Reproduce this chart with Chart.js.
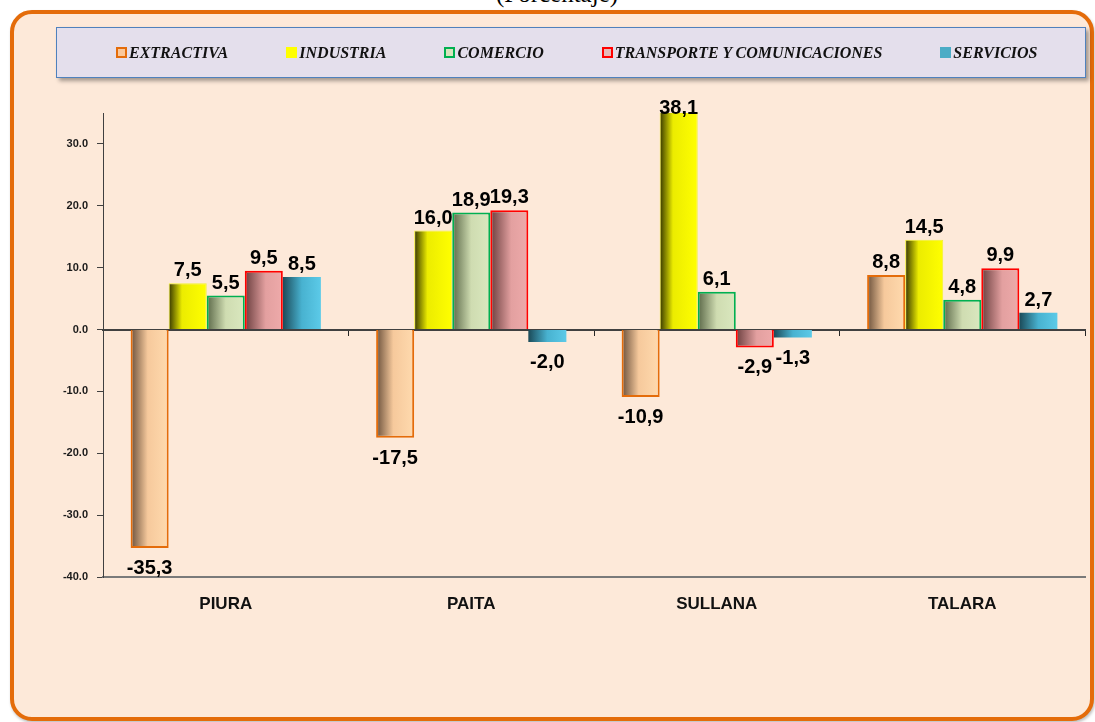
<!DOCTYPE html>
<html>
<head>
<meta charset="utf-8">
<title>Variación por sector</title>
<script src="https://cdn.jsdelivr.net/npm/chart.js@4/dist/chart.umd.min.js"></script>
<style>
    html, body { margin: 0; padding: 0; background: #ffffff; }
    body { position: relative; width: 1095px; height: 722px; overflow: hidden; }
    #title {
        position: absolute; left: 557px; top: -19px; transform: translateX(-50%);
        font: 25px "Liberation Serif", "Times New Roman", serif; line-height: 25px;
        color: #000; white-space: nowrap;
    }
    #frame {
        position: absolute; left: 10px; top: 10px; width: 1084px; height: 711px;
        box-sizing: border-box; border: 4px solid #e46c0a; border-radius: 22px;
        background: #fde9d9; box-shadow: 1px 2px 3px rgba(0,0,0,0.25);
    }
    #chart { position: absolute; left: 0; top: 0; }
    #legend {
        position: absolute; left: 56px; top: 27px; width: 1030px; height: 51px;
        box-sizing: border-box; border: 1.5px solid #4f81bd; background: #e4dfec;
        box-shadow: 3px 3px 4px rgba(0,0,0,0.35);
        display: flex; align-items: center; padding-left: 59px; gap: 58px;
    }
    .item { display: flex; align-items: center; white-space: nowrap;
        font: italic bold 16px "Liberation Serif", "Times New Roman", serif; color: #111; }
    .mark { display: inline-block; width: 11px; height: 11px; box-sizing: border-box; margin-right: 2px; }
</style>
</head>
<body>
<div id="title">(Porcentaje)</div>
<div id="frame"></div>
<canvas id="chart" width="1095" height="722"></canvas>
<div id="legend"></div>
<script>
// Data
const categories = ['PIURA', 'PAITA', 'SULLANA', 'TALARA'];
const seriesNames = ['EXTRACTIVA', 'INDUSTRIA', 'COMERCIO', 'TRANSPORTE Y COMUNICACIONES', 'SERVICIOS'];
const extractiva = [-35.3, -17.5, -10.9, 8.8];
const industria = [7.5, 16.0, 38.1, 14.5];
const comercio = [5.5, 18.9, 6.1, 4.8];
const transporte = [9.5, 19.3, -2.9, 9.9];
const servicios = [8.5, -2.0, -1.3, 2.7];
const yTickValues = [-40, -30, -20, -10, 0, 10, 20, 30];
const yMin = -40;
const yMax = 35;

// Styles
const seriesShades = [
    [[0, '#6a503b'], [0.45, '#f6c99c'], [1, '#ffdaae']],
    [[0, '#363600'], [0.35, '#ecec00'], [1, '#ffff00']],
    [[0, '#5b6848'], [0.5, '#cfdcb1'], [1, '#dae8bf']],
    [[0, '#6a3e3e'], [0.55, '#e3a0a0'], [1, '#eeaaaa']],
    [[0, '#1b4a58'], [0.5, '#48b2d0'], [1, '#5ccae8']]
];
const borderColors = ['#e46c0a', '#f2f230', '#00b050', '#ff0000', '#4bacc6'];
const borderWidths = [2, 1, 2, 2, 0];
const markStyles = [
    'border:2px solid #e46c0a;background:#fbc89a',
    'background:#ffff00',
    'border:2px solid #00b050;background:#d7e4bd',
    'border:2px solid #ff0000;background:#e6b9b8',
    'background:#4bacc6'
];

const groupPct = 0.775;
const sansFont = '"Liberation Sans", Arial, sans-serif';

/**
 * Horizontal shading of each bar (dark left edge, light body)
 */
function barGradient(context) {
    const chart = context.chart;
    const xs = chart.scales.x;
    const stops = seriesShades[context.datasetIndex];
    if (!xs || !xs.width || context.dataIndex === undefined) {
        return stops[stops.length - 1][1];
    }
    const catW = xs.width / categories.length;
    const groupW = catW * groupPct;
    const barW = groupW / seriesNames.length;
    const left = xs.getPixelForValue(context.dataIndex) - groupW / 2 + context.datasetIndex * barW;
    const g = chart.ctx.createLinearGradient(left, 0, left + barW, 0);
    stops.forEach(s => g.addColorStop(s[0], s[1]));
    return g;
}

// Value labels with comma decimals
const valueLabels = {
    id: 'valueLabels',
    afterDatasetsDraw(chart) {
        const { ctx, chartArea } = chart;
        ctx.save();
        ctx.font = 'bold 20px ' + sansFont;
        ctx.fillStyle = '#000';
        ctx.textAlign = 'center';
        ctx.textBaseline = 'alphabetic';
        chart.data.datasets.forEach((ds, i) => {
            chart.getDatasetMeta(i).data.forEach((bar, j) => {
                const v = ds.data[j];
                const txt = v.toFixed(1).replace('.', ',');
                let y;
                if (v >= 0) {
                    y = bar.y < chartArea.top ? chartArea.top + 1 : bar.y - 7;
                } else {
                    y = bar.y + 26;
                }
                ctx.fillText(txt, bar.x, y);
            });
        });
        ctx.restore();
    }
};

// Legend
const legendEl = document.getElementById('legend');
seriesNames.forEach((name, i) => {
    const item = document.createElement('div');
    item.className = 'item';
    item.innerHTML = '<span class="mark" style="' + markStyles[i] + '"></span>' + name;
    legendEl.appendChild(item);
});

const seriesData = [extractiva, industria, comercio, transporte, servicios];

new Chart(document.getElementById('chart').getContext('2d'), {
    type: 'bar',
    data: {
        labels: categories,
        datasets: seriesNames.map((name, i) => ({
            label: name,
            data: seriesData[i],
            backgroundColor: barGradient,
            borderColor: borderColors[i],
            borderWidth: borderWidths[i],
            categoryPercentage: groupPct,
            barPercentage: 1
        }))
    },
    options: {
        responsive: false,
        animation: false,
        devicePixelRatio: 1,
        layout: { padding: { left: 43, top: 113, right: 10, bottom: 95 } },
        plugins: {
            legend: { display: false },
            tooltip: { enabled: false }
        },
        scales: {
            x: {
                type: 'category',
                grid: { display: false, drawTicks: false },
                border: { display: true, color: '#7a7a7a', width: 2 },
                ticks: {
                    padding: 17,
                    color: '#111',
                    font: { family: sansFont, size: 17, weight: 'bold' }
                },
                afterFit: s => { s.height = 50; }
            },
            y: {
                min: yMin,
                max: yMax,
                afterBuildTicks: s => { s.ticks = yTickValues.map(v => ({ value: v })); },
                afterFit: s => { s.width = 60; },
                grid: { drawOnChartArea: false, tickLength: 6, color: '#404040' },
                border: { display: true, color: '#404040', width: 1 },
                ticks: {
                    padding: 9,
                    color: '#1a1a1a',
                    font: { family: sansFont, size: 11, weight: 'bold' },
                    callback: v => Number(v).toFixed(1)
                }
            },
            x0: {
                type: 'category',
                axis: 'x',
                position: { y: 0 },
                offset: true,
                grid: { offset: true, drawOnChartArea: false, tickLength: 5, color: '#262626' },
                border: { display: true, color: '#404040', width: 2 },
                ticks: { display: false }
            }
        }
    },
    plugins: [valueLabels]
});
</script>
</body>
</html>
